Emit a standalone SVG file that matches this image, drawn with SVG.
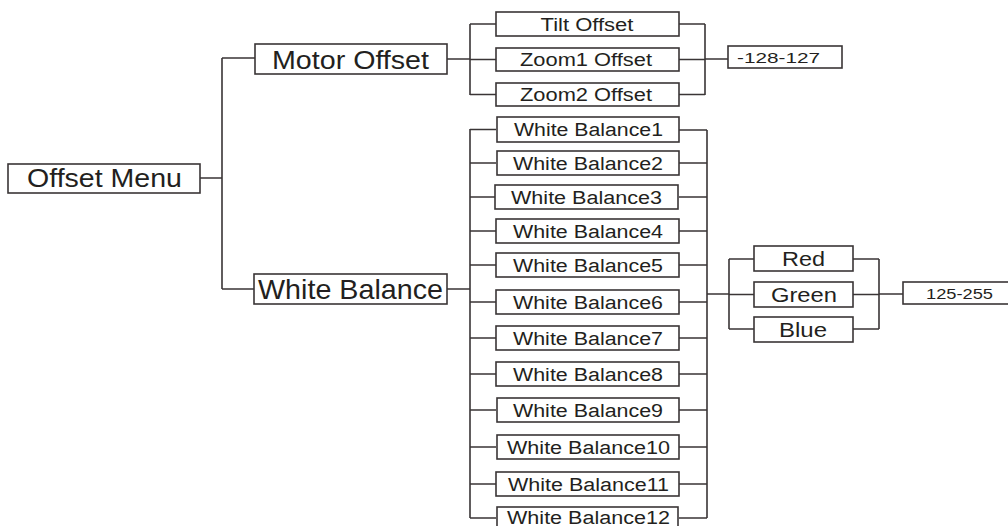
<svg xmlns="http://www.w3.org/2000/svg" width="1008" height="526" viewBox="0 0 1008 526">
<style>
rect{fill:#fff;stroke:#3a3536;stroke-width:1.6}
text{font-family:"Liberation Sans",Arial,sans-serif;fill:#231f20;text-anchor:middle}
.c path{fill:none;stroke:#3a3536;stroke-width:1.6}
.t1{font-size:25px}
.t2{font-size:18px}
.t3{font-size:21px}
.t4{font-size:15px}
</style>
<rect x="0" y="0" width="1008" height="526" style="stroke:none"/>
<g class="c" id="connectors">
<path d="M200 178H222M222 58V289M222 58H255M222 289H254"/>
<path d="M447 59H470M470 24V95M470 24H496M470 59.5H496M470 94.5H496"/>
<path d="M679 24H705M679 59.5H705M679 94.5H705M705 24V95M705 59H728"/>
<path d="M447 289H470M470 129V518"/>
<path d="M470 129.5H496M470 163H496M470 197H496M470 231H496M470 265H496M470 302H496M470 338H496M470 374H496M470 410H496M470 447H496M470 484H496M470 518H496"/>
<path d="M679 130H707M679 163H707M679 197H707M679 231H707M679 265H707M679 302H707M679 338H707M679 374H707M679 410H707M679 447H707M679 484H707M679 518H707M707 130V518"/>
<path d="M707 294H729M729 259V329M729 259H754M729 294.5H754M729 329H754"/>
<path d="M853 259H879M853 294.5H879M853 329H879M879 259V329M879 294H903"/>
</g>
<g id="offset-menu"><rect x="8" y="164" width="192" height="29"/><text class="t1" x="104.5" y="187" textLength="155" lengthAdjust="spacingAndGlyphs">Offset Menu</text></g>
<g id="motor-offset"><rect x="255" y="44" width="192" height="30"/><text style="font-size:26px" x="350.5" y="68.5" textLength="157" lengthAdjust="spacingAndGlyphs">Motor Offset</text></g>
<g id="white-balance"><rect x="254" y="274" width="193" height="30"/><text style="font-size:28px" x="350.5" y="299" textLength="185" lengthAdjust="spacingAndGlyphs">White Balance</text></g>
<g id="tilt-offset"><rect x="496" y="12" width="183" height="24"/><text class="t2" x="587" y="31" textLength="93" lengthAdjust="spacingAndGlyphs">Tilt Offset</text></g>
<g id="zoom1-offset"><rect x="496" y="48" width="183" height="23"/><text class="t2" x="586" y="66" textLength="132" lengthAdjust="spacingAndGlyphs">Zoom1 Offset</text></g>
<g id="zoom2-offset"><rect x="496" y="83" width="183" height="23"/><text class="t2" x="586" y="101" textLength="132" lengthAdjust="spacingAndGlyphs">Zoom2 Offset</text></g>
<g id="range-motor"><rect x="728" y="46" width="114" height="22"/><text class="t4" x="778.5" y="62.5" textLength="83" lengthAdjust="spacingAndGlyphs">-128-127</text></g>
<g id="wb1"><rect x="497" y="117" width="182" height="25"/><text class="t2" x="588.5" y="136" textLength="149" lengthAdjust="spacingAndGlyphs">White Balance1</text></g>
<g id="wb2"><rect x="497" y="151" width="182" height="24"/><text class="t2" x="588" y="169.5" textLength="150" lengthAdjust="spacingAndGlyphs">White Balance2</text></g>
<g id="wb3"><rect x="495" y="185" width="183" height="24"/><text class="t2" x="586.5" y="203.5" textLength="151" lengthAdjust="spacingAndGlyphs">White Balance3</text></g>
<g id="wb4"><rect x="496" y="219" width="183" height="24"/><text class="t2" x="588" y="237.5" textLength="150" lengthAdjust="spacingAndGlyphs">White Balance4</text></g>
<g id="wb5"><rect x="496" y="253" width="183" height="24"/><text class="t2" x="588" y="271.5" textLength="150" lengthAdjust="spacingAndGlyphs">White Balance5</text></g>
<g id="wb6"><rect x="496" y="290" width="183" height="24"/><text class="t2" x="588" y="308.5" textLength="150" lengthAdjust="spacingAndGlyphs">White Balance6</text></g>
<g id="wb7"><rect x="496" y="326" width="183" height="24"/><text class="t2" x="588" y="344.5" textLength="150" lengthAdjust="spacingAndGlyphs">White Balance7</text></g>
<g id="wb8"><rect x="496" y="362" width="183" height="24"/><text class="t2" x="588" y="380.5" textLength="150" lengthAdjust="spacingAndGlyphs">White Balance8</text></g>
<g id="wb9"><rect x="497" y="398" width="182" height="24"/><text class="t2" x="588" y="416.5" textLength="150" lengthAdjust="spacingAndGlyphs">White Balance9</text></g>
<g id="wb10"><rect x="497" y="435" width="182" height="24"/><text class="t2" x="588.5" y="453.5" textLength="163" lengthAdjust="spacingAndGlyphs">White Balance10</text></g>
<g id="wb11"><rect x="496" y="472" width="183" height="24"/><text class="t2" x="588.5" y="490.5" textLength="161" lengthAdjust="spacingAndGlyphs">White Balance11</text></g>
<g id="wb12"><rect x="497" y="507" width="181" height="24"/><text class="t2" x="588.5" y="524" textLength="163" lengthAdjust="spacingAndGlyphs">White Balance12</text></g>
<g id="red"><rect x="754" y="246" width="99" height="25"/><text class="t3" x="803.5" y="266" textLength="43" lengthAdjust="spacingAndGlyphs">Red</text></g>
<g id="green"><rect x="754" y="282" width="99" height="25"/><text class="t3" x="804" y="302" textLength="66" lengthAdjust="spacingAndGlyphs">Green</text></g>
<g id="blue"><rect x="754" y="317" width="99" height="25"/><text class="t3" x="803" y="337" textLength="48" lengthAdjust="spacingAndGlyphs">Blue</text></g>
<g id="range-wb"><rect x="903" y="282" width="112" height="22"/><text class="t4" x="959.5" y="298.5" textLength="67" lengthAdjust="spacingAndGlyphs">125-255</text></g>
</svg>
